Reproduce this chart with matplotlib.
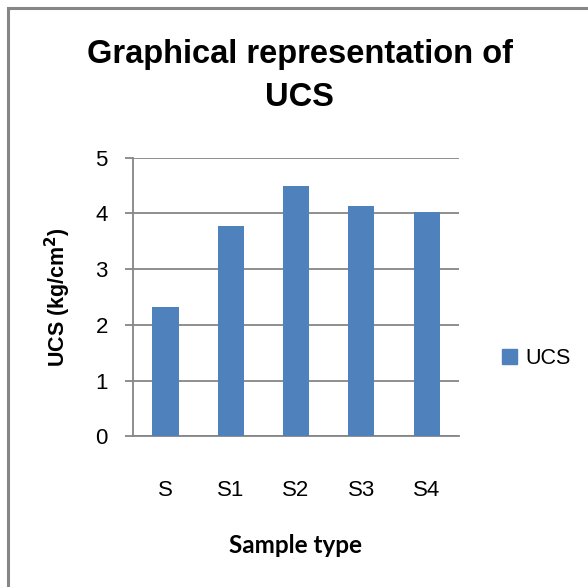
import matplotlib
matplotlib.use("Agg")
import matplotlib.pyplot as plt
from matplotlib.patches import Rectangle, Patch
from matplotlib import font_manager

samples = ['S', 'S1', 'S2', 'S3', 'S4']
ucs = [2.33, 3.78, 4.5, 4.13, 4.03]
yticks = [0, 1, 2, 3, 4, 5]

names = {f.name for f in font_manager.fontManager.ttflist}
narrow = 'Liberation Sans Narrow' if 'Liberation Sans Narrow' in names else 'Liberation Sans'
plt.rcParams['font.family'] = [narrow, 'DejaVu Sans']

blue = '#4F81BD'
grey = '#868686'

fig = plt.figure(figsize=(5.88, 5.87), dpi=100)
ax = fig.add_axes([0.226, 0.2564, 0.555, 0.4749])

x = range(len(samples))
ax.bar(x, ucs, width=0.4, color=blue, zorder=3)
ax.set_xlim(-0.5, len(samples) - 0.5)
ax.set_ylim(0, 5)
ax.set_yticks(yticks)
ax.set_xticks(list(x))
ax.set_xticklabels(samples)
ax.yaxis.grid(True, color=grey, linewidth=1.3, zorder=0)
for s in ['top', 'right']:
    ax.spines[s].set_visible(False)
for s in ['left', 'bottom']:
    ax.spines[s].set_color(grey)
    ax.spines[s].set_linewidth(1.3)
ax.tick_params(axis='y', length=6, width=1.3, color=grey, pad=12, labelsize=16)
ax.tick_params(axis='x', length=0, pad=31, labelsize=16)

fig.text(0.51, 0.87, 'Graphical representation of\nUCS', ha='center', va='center',
         fontsize=23.5, fontweight='bold', linespacing=1.5)
fig.text(0.098, 0.494, 'UCS (kg/cm$^\\mathbf{2}$)', rotation=90, ha='center', va='center',
         fontsize=15.5, fontweight='bold')
fig.text(0.503, 0.0715, 'Sample type', ha='center', va='center',
         fontsize=17.5, fontweight='bold', family=['Lato', 'DejaVu Sans'])

fig.legend(handles=[Patch(color=blue, label='UCS')], loc='center left',
           bbox_to_anchor=(0.82, 0.39), frameon=False, fontsize=15.5,
           handlelength=0.7, handleheight=0.7, handletextpad=0.4)

fig.patches.append(Rectangle((0.0136, -0.1), 1.2, 1.087, transform=fig.transFigure,
                             fill=False, edgecolor=grey, linewidth=2.2))

fig.savefig('out.png', dpi=100)
